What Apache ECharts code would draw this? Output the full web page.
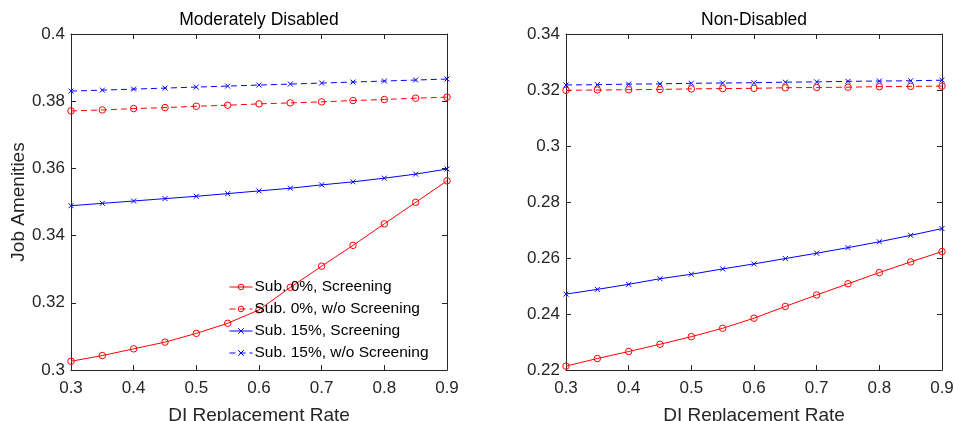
<!DOCTYPE html>
<html>
<head>
<meta charset="utf-8">
<script src="https://cdn.jsdelivr.net/npm/echarts@6/dist/echarts.min.js"></script>
<style>
  html, body { margin: 0; padding: 0; background: #fff; }
  #chart { width: 954px; height: 421px; }
</style>
</head>
<body>
<div id="chart"></div>
<script>
// DI replacement rate
const rates = [0.3, 0.35, 0.4, 0.45, 0.5, 0.55, 0.6, 0.65, 0.7, 0.75, 0.8, 0.85, 0.9];
const seriesNames = ['Sub. 0%, Screening', 'Sub. 0%, w/o Screening', 'Sub. 15%, Screening', 'Sub. 15%, w/o Screening'];

// Moderately Disabled
const modSub0Scr = [0.3026, 0.3043, 0.3063, 0.3083, 0.3109, 0.3139, 0.3179, 0.3246, 0.3309, 0.3371, 0.3435, 0.3499, 0.3563];
const modSub0NoScr = [0.3771, 0.3774, 0.3778, 0.3781, 0.3785, 0.3788, 0.3792, 0.3795, 0.3798, 0.3802, 0.3805, 0.3809, 0.3812];
const modSub15Scr = [0.3489, 0.3496, 0.3503, 0.3510, 0.3517, 0.3525, 0.3533, 0.3541, 0.3551, 0.3560, 0.3571, 0.3583, 0.3598];
const modSub15NoScr = [0.3830, 0.3833, 0.3836, 0.3839, 0.3842, 0.3845, 0.3848, 0.3851, 0.3854, 0.3857, 0.3860, 0.3863, 0.3866];

// Non-Disabled
const nonSub0Scr = [0.2214, 0.2241, 0.2266, 0.2292, 0.2319, 0.2349, 0.2385, 0.2427, 0.2468, 0.2508, 0.2548, 0.2586, 0.2623];
const nonSub0NoScr = [0.3199, 0.3200, 0.3201, 0.3202, 0.3204, 0.3205, 0.3206, 0.3208, 0.3209, 0.3210, 0.3212, 0.3213, 0.3214];
const nonSub15Scr = [0.2471, 0.2488, 0.2506, 0.2526, 0.2542, 0.2561, 0.2579, 0.2598, 0.2617, 0.2637, 0.2658, 0.2681, 0.2705];
const nonSub15NoScr = [0.3218, 0.3219, 0.3221, 0.3222, 0.3224, 0.3225, 0.3226, 0.3228, 0.3229, 0.3231, 0.3232, 0.3233, 0.3235];

const yTicksLeft = { min: 0.3, max: 0.4, interval: 0.02 };
const yTicksRight = { min: 0.22, max: 0.34, interval: 0.02 };

const AX = '#262626';
const FONT = 'Liberation Sans, Arial, sans-serif';
const crossPath = 'path://M0,0L10,10M10,0L0,10';

function pairs(vals) {
  return rates.map((r, i) => [r, vals[i]]);
}

function xAxisOf(gridIndex, top) {
  return {
    type: 'value', gridIndex: gridIndex, min: 0.3, max: 0.9, interval: 0.1,
    position: top ? 'top' : 'bottom',
    name: top ? '' : 'DI Replacement Rate',
    nameLocation: 'middle', nameGap: 36,
    nameTextStyle: { fontFamily: FONT, fontSize: 19, color: AX },
    axisLine: { show: true, lineStyle: { color: AX, width: 1 } },
    axisTick: { show: true, inside: true, length: 5, lineStyle: { color: AX } },
    axisLabel: { show: !top, fontFamily: FONT, fontSize: 17, color: AX, margin: 10 },
    splitLine: { show: false }
  };
}

function yAxisOf(gridIndex, ticks, right, withName) {
  return {
    type: 'value', gridIndex: gridIndex, min: ticks.min, max: ticks.max, interval: ticks.interval,
    position: right ? 'right' : 'left',
    name: withName ? 'Job Amenities' : '',
    nameLocation: 'middle', nameGap: 43,
    nameTextStyle: { fontFamily: FONT, fontSize: 19, color: AX },
    axisLine: { show: true, lineStyle: { color: AX, width: 1 } },
    axisTick: { show: true, inside: true, length: 5, lineStyle: { color: AX } },
    axisLabel: { show: !right, fontFamily: FONT, fontSize: 17, color: AX, margin: 6 },
    splitLine: { show: false }
  };
}

function line(name, vals, axis, color, dashed, circle) {
  return {
    name: name, type: 'line', xAxisIndex: axis, yAxisIndex: axis,
    data: pairs(vals),
    symbol: circle ? 'circle' : crossPath,
    symbolSize: circle ? 6.5 : 5,
    showSymbol: true,
    animation: false,
    lineStyle: { color: color, width: 1, type: dashed ? [6, 4] : 'solid' },
    itemStyle: { color: circle ? 'rgba(0,0,0,0)' : color, borderColor: color, borderWidth: 1 },
    emphasis: { disabled: true }
  };
}

const chart = echarts.init(document.getElementById('chart'));
chart.setOption({
  animation: false,
  title: [
    { text: 'Moderately Disabled', left: 259, top: 11, padding: 0, textAlign: 'center',
      textStyle: { fontFamily: FONT, fontSize: 17.5, fontWeight: 'normal', color: '#000' } },
    { text: 'Non-Disabled', left: 754, top: 11, padding: 0, textAlign: 'center',
      textStyle: { fontFamily: FONT, fontSize: 17.5, fontWeight: 'normal', color: '#000' } }
  ],
  legend: {
    data: seriesNames, orient: 'vertical', left: 229, top: 279, padding: 0,
    itemWidth: 23, itemHeight: 7, itemGap: 6,
    lineStyle: { width: 1 },
    itemStyle: { borderWidth: 1 },
    textStyle: { fontFamily: FONT, fontSize: 15.5, color: '#000', padding: [0, 0, 0, -3] },
    selectedMode: false
  },
  grid: [
    { left: 71, top: 34, width: 376, height: 336, outerBoundsMode: 'none', containLabel: false },
    { left: 566, top: 34, width: 376, height: 336, outerBoundsMode: 'none', containLabel: false }
  ],
  xAxis: [xAxisOf(0, false), xAxisOf(1, false), xAxisOf(0, true), xAxisOf(1, true)],
  yAxis: [
    yAxisOf(0, yTicksLeft, false, true), yAxisOf(1, yTicksRight, false, false),
    yAxisOf(0, yTicksLeft, true, false), yAxisOf(1, yTicksRight, true, false)
  ],
  series: [
    line(seriesNames[0], modSub0Scr, 0, '#ff0000', false, true),
    line(seriesNames[1], modSub0NoScr, 0, '#ff0000', true, true),
    line(seriesNames[2], modSub15Scr, 0, '#0000ff', false, false),
    line(seriesNames[3], modSub15NoScr, 0, '#0000ff', true, false),
    line(seriesNames[0], nonSub0Scr, 1, '#ff0000', false, true),
    line(seriesNames[1], nonSub0NoScr, 1, '#ff0000', true, true),
    line(seriesNames[2], nonSub15Scr, 1, '#0000ff', false, false),
    line(seriesNames[3], nonSub15NoScr, 1, '#0000ff', true, false)
  ]
});
</script>
</body>
</html>
